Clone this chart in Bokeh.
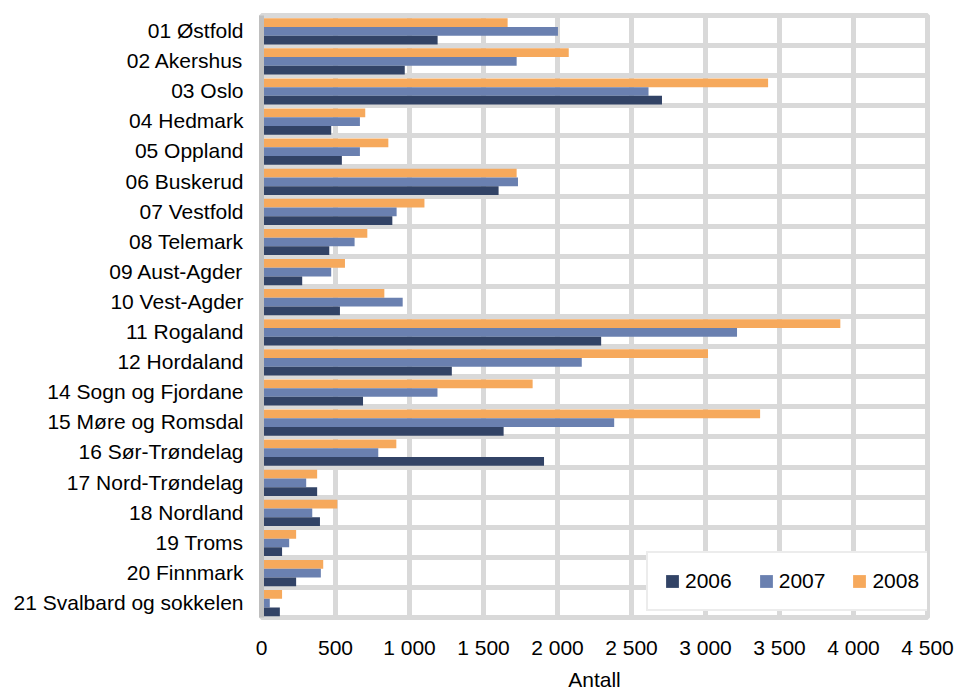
from bokeh.plotting import figure
from bokeh.models import (ColumnDataSource, Range1d, FixedTicker,
                          CustomJSTickFormatter, Legend, LegendItem)
from bokeh.transform import dodge
from bokeh.embed import file_html
from bokeh.resources import INLINE

categories = ["01 Østfold", "02 Akershus", "03 Oslo", "04 Hedmark", "05 Oppland",
              "06 Buskerud", "07 Vestfold", "08 Telemark", "09 Aust-Agder", "10 Vest-Agder",
              "11 Rogaland", "12 Hordaland", "14 Sogn og Fjordane", "15 Møre og Romsdal",
              "16 Sør-Trøndelag", "17 Nord-Trøndelag", "18 Nordland", "19 Troms",
              "20 Finnmark", "21 Svalbard og sokkelen"]
v2006 = [1190, 968, 2706, 471, 543, 1602, 884, 458, 275, 530,
         2295, 1286, 686, 1636, 1909, 376, 395, 139, 234, 124]
v2007 = [2003, 1724, 2615, 665, 665, 1733, 913, 629, 471, 954,
         3213, 2164, 1189, 2383, 789, 302, 343, 187, 401, 56]
v2008 = [1663, 2076, 3423, 701, 857, 1724, 1101, 715, 564, 830,
         3911, 3017, 1832, 3369, 911, 376, 512, 234, 417, 139]
years = ["2006", "2007", "2008"]
xticks = [0, 500, 1000, 1500, 2000, 2500, 3000, 3500, 4000, 4500]

C06, C07, C08 = "#324366", "#6A80B0", "#F6A95C"
GRID = "#D9D9D9"
FONT = "Liberation Sans"
FS = "21px"

n = len(categories)
ypos = [n - i - 0.5 for i in range(n)]   # row centres, first category on top
src = ColumnDataSource(dict(cat=categories, ypos=ypos, v2006=v2006, v2007=v2007, v2008=v2008))

p = figure(width=957, height=693,
           y_range=Range1d(0, n),
           x_range=Range1d(xticks[0], xticks[-1]),
           output_backend="svg", toolbar_location=None,
           min_border_left=261, min_border_right=30, min_border_top=15, min_border_bottom=75)

bh = 0.29
r08 = p.hbar(y=dodge("ypos", 0.265), right="v2008", left=0, height=bh,
             source=src, fill_color=C08, line_color=None)
r07 = p.hbar(y=dodge("ypos", -0.025), right="v2007", left=0, height=bh,
             source=src, fill_color=C07, line_color=None)
r06 = p.hbar(y=dodge("ypos", -0.315), right="v2006", left=0, height=bh,
             source=src, fill_color=C06, line_color=None)

# grids
p.xgrid.ticker = FixedTicker(ticks=xticks)
p.xgrid.grid_line_color = GRID
p.xgrid.grid_line_width = 5
p.ygrid.ticker = FixedTicker(ticks=list(range(1, n)))
p.ygrid.grid_line_color = GRID
p.ygrid.grid_line_width = 5

p.outline_line_color = GRID
p.outline_line_width = 5
p.background_fill_color = "white"
p.border_fill_color = "white"

# x axis
xa = p.xaxis[0]
xa.ticker = FixedTicker(ticks=xticks)
xa.formatter = CustomJSTickFormatter(code="return tick.toString().replace(/\\B(?=(\\d{3})+(?!\\d))/g, ' ');")
xa.axis_line_color = None
xa.major_tick_line_color = None
xa.minor_tick_line_color = None
xa.major_label_standoff = 12
xa.major_label_text_font = FONT
xa.major_label_text_font_size = FS
xa.major_label_text_color = "black"
xa.axis_label = "Antall"
xa.axis_label_text_font = FONT
xa.axis_label_text_font_size = FS
xa.axis_label_text_font_style = "normal"
xa.axis_label_text_color = "black"
xa.axis_label_standoff = 6

# y axis
ya = p.yaxis[0]
ya.ticker = FixedTicker(ticks=ypos)
ya.major_label_overrides = {y: c for y, c in zip(ypos, categories)}
ya.axis_line_color = "#BFBFBF"
ya.axis_line_width = 5
ya.major_tick_line_color = None
ya.minor_tick_line_color = None
ya.major_label_standoff = 12
ya.major_label_text_font = FONT
ya.major_label_text_font_size = FS
ya.major_label_text_color = "black"

legend = Legend(items=[LegendItem(label=years[0], renderers=[r06]),
                       LegendItem(label=years[1], renderers=[r07]),
                       LegendItem(label=years[2], renderers=[r08])],
                orientation="horizontal", location=(385, 6),
                glyph_width=16, glyph_height=16, label_standoff=5, spacing=26, padding=16,
                label_text_font=FONT, label_text_font_size=FS, label_text_color="black",
                border_line_color=GRID, border_line_width=2.5,
                background_fill_color="white", background_fill_alpha=1.0)
p.add_layout(legend)

open("out.html", "w").write(file_html(p, INLINE))
